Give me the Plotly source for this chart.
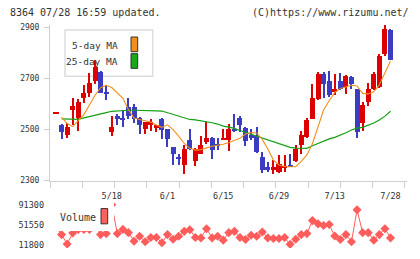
import plotly.graph_objects as go
import numpy as np

# ---------------- data ----------------
dates = ["5/1", "5/2", "5/8", "5/9", "5/10", "5/11", "5/12", "5/15", "5/16", "5/17",
         "5/18", "5/19", "5/22", "5/23", "5/24", "5/25", "5/26", "5/29", "5/30", "5/31",
         "6/1", "6/2", "6/5", "6/6", "6/7", "6/8", "6/9", "6/12", "6/13", "6/14",
         "6/15", "6/16", "6/19", "6/20", "6/21", "6/22", "6/23", "6/26", "6/27", "6/28",
         "6/29", "6/30", "7/3", "7/4", "7/5", "7/6", "7/7", "7/10", "7/11", "7/12",
         "7/13", "7/14", "7/18", "7/19", "7/20", "7/21", "7/24", "7/25", "7/26", "7/27",
         "7/28"]

opens = [2564, 2519, 2479, 2577, 2545, 2622, 2641, 2689, 2726, 2647,
         2491, 2552, 2545, 2587, 2587, 2545, 2500, 2519, 2504, 2539,
         2500, 2430, 2390, 2360, 2460, 2375, 2405, 2452, 2468, 2443,
         2459, 2460, 2500, 2545, 2507, 2477, 2475, 2392, 2354, 2343,
         2334, 2350, 2360, 2375, 2439, 2470, 2542, 2618, 2717, 2688,
         2645, 2688, 2666, 2707, 2657, 2526, 2606, 2657, 2666, 2794,
         2890]
highs = [2565, 2521, 2526, 2625, 2618, 2675, 2720, 2771, 2730, 2672,
         2554, 2562, 2575, 2625, 2600, 2547, 2530, 2541, 2518, 2545,
         2502, 2432, 2402, 2439, 2500, 2427, 2475, 2530, 2470, 2468,
         2503, 2522, 2560, 2552, 2508, 2500, 2511, 2411, 2373, 2380,
         2398, 2398, 2402, 2440, 2493, 2543, 2679, 2724, 2724, 2730,
         2717, 2721, 2712, 2709, 2659, 2606, 2683, 2724, 2797, 2907,
         2892]
lows = [2564, 2462, 2465, 2517, 2494, 2603, 2628, 2679, 2641, 2615,
        2475, 2516, 2510, 2539, 2526, 2481, 2484, 2493, 2490, 2462,
        2433, 2360, 2360, 2324, 2420, 2356, 2404, 2443, 2385, 2420,
        2459, 2414, 2490, 2488, 2434, 2460, 2407, 2331, 2335, 2326,
        2328, 2334, 2352, 2374, 2405, 2468, 2541, 2617, 2622, 2628,
        2634, 2653, 2638, 2660, 2465, 2494, 2592, 2656, 2664, 2787,
        2771]
closes = [2565, 2491, 2511, 2590, 2606, 2641, 2683, 2745, 2641, 2641,
          2511, 2542, 2535, 2554, 2541, 2519, 2529, 2529, 2516, 2496,
          2462, 2405, 2386, 2424, 2424, 2424, 2439, 2468, 2420, 2434,
          2460, 2500, 2494, 2519, 2456, 2468, 2411, 2343, 2343, 2351,
          2364, 2356, 2354, 2425, 2480, 2535, 2625, 2717, 2679, 2634,
          2660, 2660, 2711, 2676, 2488, 2596, 2657, 2717, 2787, 2893,
          2771]

ma5 = [None, 2548, 2523, 2511, 2536, 2558, 2596, 2634, 2663, 2673,
       2664, 2641, 2622, 2577, 2545, 2539, 2535, 2529, 2517, 2508,
       2518, 2499, 2474, 2445, 2426, 2419, 2421, 2428, 2434, 2438,
       2442, 2449, 2457, 2465, 2482, 2488, 2486, 2461, 2423, 2380,
       2361, 2355, 2354, 2354, 2375, 2400, 2444, 2507, 2576, 2612,
       2645, 2660, 2668, 2673, 2670, 2641, 2639, 2647, 2675, 2721,
       2768]
ma25 = [None, 2541, 2540, 2539, 2539, 2545, 2551, 2556, 2560, 2566,
        2571, 2573, 2574, 2575, 2575, 2575, 2575, 2574, 2573, 2572,
        2565, 2557, 2550, 2543, 2539, 2537, 2534, 2530, 2526, 2521,
        2513, 2509, 2504, 2496, 2489, 2482, 2474, 2467, 2461, 2454,
        2445, 2438, 2430, 2427, 2426, 2426, 2436, 2446, 2456, 2463,
        2469, 2477, 2487, 2498, 2505, 2508, 2515, 2525, 2537, 2552,
        2571]

volume = [47900, 31700, 12800, 34900, 42100, 42100, 42100, 53800, 31700, 33700,
          91300, 33700, 42100, 35600, 18600, 28400, 17300, 25900, 25900, 15300,
          31700, 22500, 28400, 38200, 41500, 25900, 25100, 43400, 25100, 28400,
          20600, 35600, 38200, 25900, 22000, 30400, 28400, 36800, 25100, 23900,
          23900, 25900, 12200, 22500, 31700, 33700, 59700, 53200, 49900, 51800,
          29000, 22000, 31700, 17300, 81100, 35600, 35600, 20600, 31700, 43400,
          25100]

price_ticks = [2300, 2500, 2700, 2900]
volume_ticks = [11800, 51550, 91300]
label_dates = ["5/18", "6/1", "6/15", "6/29", "7/13", "7/28"]

# ---------------- geometry / style ----------------
W, H = 420, 259
ML, MR, MT, MB = 50, 13, 25, 6
PW, PH = W - ML - MR, H - MT - MB
STEP = 5.575          # px per candle
X0 = 56.0             # px of first candle


def pxx(x):
    return (x - ML) / PW


def pxy(y):
    return (H - MB - y) / PH


FONT = "DejaVu Sans Mono"
TXT = "#333333"
AX = "#cfcfcf"
RED = "#dd0000"
BLUE = "#3c3cc0"
ORANGE = "#f0901a"
GREEN = "#12a012"
VOLC = "#ff5c5c"

n = len(dates)
idx = np.arange(n)
o = np.array(opens, float)
h = np.array(highs, float)
l = np.array(lows, float)
c = np.array(closes, float)
cols = [RED if cc >= oo else BLUE for oo, cc in zip(o, c)]
body_base = np.minimum(o, c)
body_h = np.maximum(np.abs(c - o), 4.5)

xr = [(ML - X0) / STEP, (W - MR - X0) / STEP]
ylo = 2300
yhi = 2300 + (184 - MT) * 3.829
grid_ticks = [((ML + k * 32.27) - X0) / STEP for k in range(12)]

# volume scale: 91300 at y=208.8 px, 11800 at y=249.5 px
vpp = (91300 - 11800) / (249.5 - 208.8)
vlo = 11800 - (H - MB - 249.5) * vpp
vhi = 11800 + (249.5 - 205) * vpp

fig = go.Figure()

# wicks
fig.add_trace(go.Bar(x=idx, y=h - l, base=l, width=0.2, marker_color=cols,
                     marker_line_width=0, xaxis="x", yaxis="y", hoverinfo="skip"))
# MA lines
fig.add_trace(go.Scatter(x=idx, y=ma25, mode="lines", line=dict(color=GREEN, width=1.2),
                         xaxis="x", yaxis="y", connectgaps=False))
fig.add_trace(go.Scatter(x=idx, y=ma5, mode="lines", line=dict(color=ORANGE, width=1.1),
                         xaxis="x", yaxis="y", connectgaps=False))
# bodies
fig.add_trace(go.Bar(x=idx, y=body_h, base=body_base, width=0.9, marker_color=cols,
                     marker_line_width=0, xaxis="x", yaxis="y"))
# invisible trace carrying the date-label axis
fig.add_trace(go.Scatter(x=idx, y=c, mode="markers", marker=dict(opacity=0),
                         xaxis="x3", yaxis="y", hoverinfo="skip"))
# volume
fig.add_trace(go.Scatter(x=idx, y=volume, mode="lines+markers",
                         line=dict(color=VOLC, width=1),
                         marker=dict(symbol="diamond", size=7, color=VOLC),
                         xaxis="x2", yaxis="y2"))

fig.update_layout(
    width=W, height=H,
    margin=dict(l=ML, r=MR, t=MT, b=MB, pad=0),
    paper_bgcolor="white", plot_bgcolor="white",
    showlegend=False, barmode="overlay", bargap=0,
    font=dict(family=FONT, size=8, color=TXT),
    xaxis=dict(domain=[0, 1], range=xr, anchor="y", showgrid=False, zeroline=False,
               showline=True, linecolor=AX, linewidth=1,
               tickmode="array", tickvals=grid_ticks, ticktext=[""] * len(grid_ticks),
               ticks="outside", ticklen=6, tickcolor=AX, tickwidth=1),
    xaxis3=dict(range=xr, overlaying="x", anchor="y", side="bottom", showgrid=False,
                zeroline=False, showline=False,
                tickmode="array", tickvals=[dates.index(d) for d in label_dates],
                ticktext=label_dates, ticks="outside", ticklen=7, tickcolor="rgba(0,0,0,0)",
                tickfont=dict(family=FONT, size=8.5, color=TXT)),
    yaxis=dict(domain=[pxy(184), 1], range=[ylo, yhi], showgrid=False, zeroline=False,
               showline=True, linecolor=AX, linewidth=1,
               tickmode="array", tickvals=price_ticks,
               ticktext=[str(v) for v in price_ticks], ticks="outside", ticklen=5,
               tickcolor=AX, ticklabelstandoff=3,
               tickfont=dict(family=FONT, size=8, color=TXT)),
    xaxis2=dict(domain=[0, 1], range=xr, anchor="y2", visible=False, matches="x"),
    yaxis2=dict(domain=[0, pxy(205)], range=[vlo, vhi], showgrid=False, zeroline=False,
                showline=False, tickmode="array", tickvals=volume_ticks,
                ticktext=[str(v) for v in volume_ticks], ticks="",
                ticklabelstandoff=5,
                tickfont=dict(family=FONT, size=8.5, color=TXT)),
)

shapes = []
# main legend box (behind candles)
shapes.append(dict(type="rect", xref="paper", yref="paper", layer="below",
                   x0=pxx(65), x1=pxx(152.7), y0=pxy(77.3), y1=pxy(30),
                   fillcolor="white", line=dict(color="#dddddd", width=1.5)))
shapes.append(dict(type="rect", xref="paper", yref="paper", layer="above",
                   x0=pxx(131), x1=pxx(137.7), y0=pxy(52.3), y1=pxy(37.3),
                   fillcolor=ORANGE, line=dict(color="#333333", width=1)))
shapes.append(dict(type="rect", xref="paper", yref="paper", layer="above",
                   x0=pxx(131), x1=pxx(137.7), y0=pxy(69.3), y1=pxy(54.3),
                   fillcolor="#18a818", line=dict(color="#333333", width=1)))
# volume legend area (white, covers markers)
shapes.append(dict(type="rect", xref="paper", yref="paper", layer="above",
                   x0=pxx(51), x1=pxx(114), y0=pxy(235.5), y1=pxy(205),
                   fillcolor="white", line=dict(width=0)))
shapes.append(dict(type="rect", xref="paper", yref="paper", layer="above",
                   x0=pxx(101), x1=pxx(107.7), y0=pxy(228.3), y1=pxy(212.7),
                   fillcolor="#ff6060", line=dict(color="#333333", width=1)))

annotations = [
    dict(text="8364 07/28 16:59 updated.", xref="paper", yref="paper",
         x=pxx(8), y=pxy(12.7), xanchor="left", yanchor="middle", showarrow=False,
         font=dict(family=FONT, size=10, color=TXT)),
    dict(text="(C)https://www.rizumu.net/", xref="paper", yref="paper",
         x=pxx(411), y=pxy(12.7), xanchor="right", yanchor="middle", showarrow=False,
         font=dict(family=FONT, size=10, color=TXT)),
    dict(text="5-day MA", xref="paper", yref="paper",
         x=pxx(120), y=pxy(45.5), xanchor="right", yanchor="middle", showarrow=False,
         font=dict(family=FONT, size=9.5, color=TXT)),
    dict(text="25-day MA", xref="paper", yref="paper",
         x=pxx(120), y=pxy(62.5), xanchor="right", yanchor="middle", showarrow=False,
         font=dict(family=FONT, size=9.5, color=TXT)),
    dict(text="Volume", xref="paper", yref="paper",
         x=pxx(58), y=pxy(221.5), xanchor="left", yanchor="middle", showarrow=False,
         font=dict(family=FONT, size=10, color=TXT)),
]
fig.update_layout(shapes=shapes, annotations=annotations)

fig.write_html("out.html")
